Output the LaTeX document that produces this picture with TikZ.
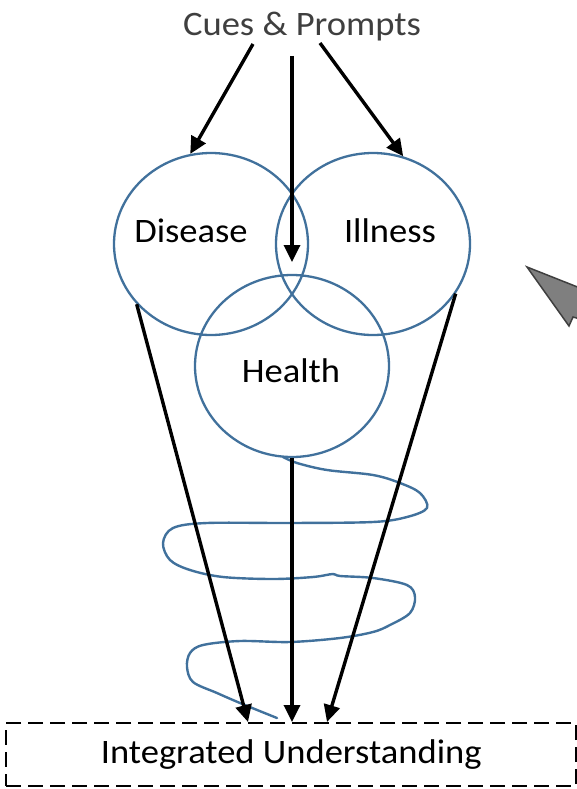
\documentclass[tikz,border=0pt]{standalone}
\usepackage{fontspec}
\setmainfont{Carlito}[FakeStretch=1.066]
\usetikzlibrary{arrows.meta,shapes.geometric}
\definecolor{circblue}{HTML}{41719C}
\definecolor{cuegray}{HTML}{3F3F3F}
\definecolor{arrowfill}{HTML}{7F7F7F}
\begin{document}
\begin{tikzpicture}[x=1pt,y=-1pt,
  circ/.style={draw=circblue, line width=2.3pt, ellipse, minimum width=194pt, minimum height=182pt, inner sep=0pt},
  lbl/.style={font=\fontsize{34.3}{40}\selectfont, inner sep=0pt, anchor=base},
  arr/.style={line width=3.4pt, -{Triangle[length=17pt,width=16pt]}},
  boxst/.style={draw, line width=2.4pt, dash pattern=on 15pt off 7pt, minimum width=570pt, minimum height=63pt, inner sep=0pt, anchor=north west, font=\fontsize{34.3}{40}\selectfont, text height=24pt, text depth=7pt},
  spiral/.style={draw=circblue, line width=2.4pt, line cap=round, line join=round}
]
\useasboundingbox (0,0) rectangle (577,789);

% circles
\node[circ] (disease) at (211,244) {};
\node[circ] (illness) at (373,244) {};
\node[circ] (health) at (292,366) {};

% labels
\node[lbl, text=cuegray] (cues) at (302,36) {Cues \& Prompts};
\node[lbl] (tdis) at (191,242) {Disease};
\node[lbl] (till) at (390,242) {Illness};
\node[lbl] (thea) at (291,382) {Health};

% result box
\node[boxst] (box) at (5,722) {Integrated Understanding};

% spiral
\draw[spiral] plot[smooth, tension=0.55] coordinates {
 (283,457) (297,463) (327,470) (373,475) (400,483) (420,493) (427,508)
 (407,517) (373,522) (290,523) (207,523) (173,528) (163,543) (170,560)
 (190,570) (223,577) (273,579) (313,577) (333,574) (340,576) (373,578)
 (407,585) (415,597) (410,613) (390,625) (373,632) (340,638) (290,642)
 (240,641) (203,645) (190,653) (187,667) (193,682) (217,693) (240,703) (277,718)};

% gray block arrow tip at right edge
\fill[arrowfill, draw=cuegray, line width=1.5pt, line join=miter]
  (527,267) -- (580,288) -- (580,319) -- (573,317) -- (569,326) -- cycle;

% connectors
\coordinate (cl) at (253,44);
\coordinate (cm) at (292,56);
\coordinate (cr) at (320,43);
\coordinate (mid) at (292,262);
\draw[arr] (cl) -- (disease.103);
\draw[arr] (cr) -- (illness.71);
\draw[arr] (cm) -- (mid);
\draw[arr] (disease.219) -- (box.north -| 248,0);
\draw[arr] (illness.329) -- (box.north -| 327,0);
\draw[arr] (health.south -| 292,0) -- (box.north -| 292,0);
\end{tikzpicture}
\end{document}
